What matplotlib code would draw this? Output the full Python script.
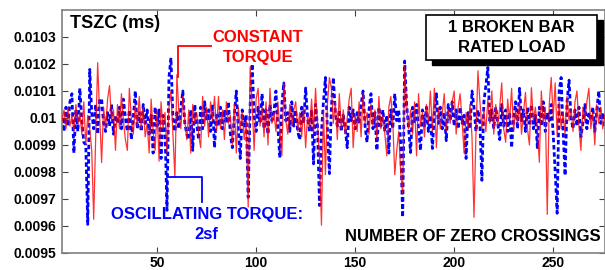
import numpy as np
import matplotlib
matplotlib.use("Agg")
import matplotlib.pyplot as plt
from matplotlib.patches import Rectangle

plt.rcParams['font.family'] = ['Liberation Sans', 'DejaVu Sans']

# zero-crossing index
n_start = 2
# constant torque (red), TSZC in units of 1e-6 ms
red_e6 = [
    9990, 10030, 9960, 10040, 9970, 10010, 9950, 10050, 9980, 10020,
    9940, 10060, 9900, 10010, 9960, 9880, 9625, 9930, 10205, 10010,
    9835, 10040, 9960, 10070, 10120, 9990, 10030, 9880, 10050, 9960,
    10090, 9990, 9920, 9880, 10110, 10000, 9940, 10050, 9970, 10080,
    9960, 10040, 9930, 9980, 9870, 10070, 9950, 9880, 10030, 9840,
    10060, 9960, 10020, 9870, 10040, 10100, 9940, 9780, 10160, 10020,
    9960, 10080, 9990, 9920, 10030, 9870, 10050, 9980, 10020, 9940,
    9890, 10080, 9970, 10040, 9930, 10060, 9990, 10080, 9950, 10080,
    9960, 10030, 9920, 10060, 9980, 10010, 9900, 10050, 9870, 10040,
    9960, 10020, 9920, 9990, 9670, 10190, 10050, 9880, 10070, 10110,
    9970, 10040, 9930, 10060, 9900, 10110, 9980, 10020, 9950, 10060,
    9960, 9860, 10130, 9990, 9940, 10050, 9970, 10030, 10060, 9950,
    10020, 9930, 10040, 9890, 10010, 9960, 10070, 9940, 10110, 9980,
    9850, 9603, 10030, 9790, 10050, 10150, 10110, 9980, 10060, 9920,
    10090, 9960, 10030, 9940, 10000, 10070, 10110, 9890, 10010, 9950,
    10060, 9930, 10090, 9980, 10020, 9940, 10050, 9970, 10030, 9920,
    10080, 9960, 10010, 9940, 9860, 10040, 10080, 9990, 9790, 9880,
    9950, 9800, 9720, 10190, 10050, 9960, 10030, 9940, 10060, 9860,
    10090, 9970, 10020, 9930, 10050, 9980, 10100, 9950, 10110, 9890,
    10040, 9960, 10020, 10090, 9950, 10030, 9980, 10060, 10100, 9940,
    10040, 10090, 9990, 9870, 10020, 9960, 10050, 9930, 9632, 9940,
    10175, 10060, 9960, 10030, 9950, 10070, 9980, 10100, 9940, 10050,
    9970, 10040, 10130, 9960, 9910, 10070, 9990, 10110, 9950, 10030,
    9980, 10060, 9940, 10020, 10095, 9960, 9900, 10112, 9990, 10040,
    9960, 9836, 10100, 9980, 10040, 9643, 10050, 10150, 10000, 10130,
    9930, 10060, 9960, 10020, 9940, 10080, 9990, 10030, 9950, 10060,
    10100, 9970, 9880, 10040, 9990, 10060, 10110, 9960, 10020, 9900,
    10050, 9980, 10040, 9960, 10010,
]
# oscillating torque 2sf (blue), TSZC in units of 1e-6 ms
blue_e6 = [
    10000, 9950, 10040, 9970, 10060, 10090, 9870, 10030, 9950, 10110,
    9990, 9910, 9900, 9606, 10180, 10020, 9960, 10050, 9940, 10070,
    10070, 9980, 9950, 10020, 9970, 10050, 9940, 10010, 9980, 10040,
    9960, 10070, 10000, 9950, 10030, 9920, 10000, 10100, 9960, 10020,
    9950, 10050, 9980, 10030, 9940, 10010, 9870, 10040, 9970, 10030,
    9850, 10010, 9960, 9658, 10150, 10223, 10000, 9950, 10020, 9960,
    10040, 10100, 9980, 9940, 9920, 10030, 9880, 10050, 9980, 9920,
    10040, 9960, 10060, 9990, 10030, 9950, 10050, 9890, 10020, 9970,
    10040, 9960, 10030, 9980, 10060, 9940, 9890, 10010, 10100, 9960,
    9850, 10030, 9970, 10010, 9706, 10050, 10200, 10010, 9950, 10040,
    9980, 10090, 9960, 10030, 9940, 10050, 9990, 10020, 10100, 9960,
    9853, 10050, 10130, 9990, 10020, 9950, 10060, 9970, 10030, 9950,
    9920, 10040, 9980, 10111, 10000, 9950, 10030, 9830, 10050, 9970,
    9676, 9950, 10060, 10150, 9960, 9794, 10040, 10150, 10020, 9970,
    10030, 9950, 10010, 9960, 9890, 10040, 9990, 10030, 9960, 10020,
    9980, 10050, 10100, 9970, 9910, 10030, 10090, 9960, 10020, 9880,
    10040, 9970, 10030, 9950, 10010, 9870, 10030, 9960, 10090, 9990,
    10030, 9900, 9632, 10211, 10050, 9960, 9872, 10040, 9980, 10050,
    9960, 9880, 10030, 9970, 10040, 9950, 10010, 9887, 10020, 10090,
    9980, 10040, 9960, 10020, 9916, 10050, 9990, 10060, 9970, 10030,
    9960, 10040, 9980, 10010, 9850, 10020, 9960, 10100, 10040, 9950,
    10030, 9980, 9769, 10060, 10120, 10187, 9990, 10030, 9960, 10040,
    9980, 9920, 10050, 9970, 10030, 9950, 10020, 9890, 10000, 10060,
    9960, 10110, 9990, 10030, 9950, 10040, 9980, 10050, 9960, 10010,
    9890, 10040, 9970, 10060, 9950, 10020, 9990, 10050, 9940, 9800,
    9647, 10100, 10150, 9950, 9787, 10060, 10140, 10000, 9960, 10030,
    9970, 10040, 9930, 9980, 10050, 9960, 10020, 9990, 10040, 9950,
    10030, 10100, 9980, 10020, 9970,
]
x_ticks = [50, 100, 150, 200, 250]
y_ticks = [0.0095, 0.0096, 0.0097, 0.0098, 0.0099, 0.01, 0.0101, 0.0102, 0.0103]
y_tick_labels = ['0.0095', '0.0096', '0.0097', '0.0098', '0.0099', '0.01',
                 '0.0101', '0.0102', '0.0103']

red = np.array(red_e6) * 1e-6
blue = np.array(blue_e6) * 1e-6
n = np.arange(n_start, n_start + len(red))

fig = plt.figure(figsize=(6.05, 2.70), dpi=100)
ax = fig.add_axes([0.1025, 0.063, 0.897, 0.900])

ax.plot(n, blue, color='#0000ff', lw=2.0, ls=(0, (1.6, 1.0)), zorder=2)
ax.plot(n, red, color='#ff0000', lw=0.9, alpha=0.8, zorder=3)

ax.set_xlim(2, 276)
ax.set_ylim(0.0095, 0.0104)
ax.set_xticks(x_ticks)
ax.set_xticklabels([str(t) for t in x_ticks])
ax.set_yticks(y_ticks)
ax.set_yticklabels(y_tick_labels)
ax.tick_params(direction='in', top=True, right=True, length=4, color='#404040',
               labelsize=10)
ax.tick_params(axis='x', pad=2)
ax.tick_params(axis='y', pad=4)
for lab in ax.get_xticklabels() + ax.get_yticklabels():
    lab.set_fontweight('bold')
for s in ax.spines.values():
    s.set_color('#808080')
    s.set_linewidth(1.2)

FS = 12

ax.text(0.015, 0.946, 'TSZC (ms)', transform=ax.transAxes, fontsize=13,
        fontweight='bold', va='center', ha='left', color='black')

ax.text(0.993, 0.066, 'NUMBER OF ZERO CROSSINGS', transform=ax.transAxes,
        fontsize=FS, fontweight='bold', va='center', ha='right', color='black')

# constant torque annotation
ax.text(101, 0.010261, 'CONSTANT\nTORQUE', fontsize=FS, fontweight='bold',
        color='#ff0000', ha='center', va='center', linespacing=1.35)
ax.plot([60.5, 60.5, 77], [0.01015, 0.010267, 0.010267], color='#ff0000', lw=1.3,
        zorder=4)

# oscillating torque annotation
ax.text(75, 0.0096056, 'OSCILLATING TORQUE:\n2sf', fontsize=FS,
        fontweight='bold', color='#0000ff', ha='center', va='center',
        linespacing=1.45)
ax.plot([55.5, 72.5, 72.5], [0.00978, 0.00978, 0.00969], color='#0000ff', lw=1.3,
        zorder=4)

# boxed label with shadow
bx0, by0, bw, bh = 0.671, 0.794, 0.315, 0.185
ax.add_patch(Rectangle((bx0 + 0.010, by0 - 0.022), bw, bh, transform=ax.transAxes,
                       facecolor='black', edgecolor='black', zorder=5))
ax.add_patch(Rectangle((bx0, by0), bw, bh, transform=ax.transAxes,
                       facecolor='white', edgecolor='black', lw=1.2, zorder=6))
ax.text(bx0 + bw / 2, by0 + bh / 2, '1 BROKEN BAR\nRATED LOAD',
        transform=ax.transAxes, fontsize=FS, fontweight='bold', ha='center',
        va='center', zorder=7, linespacing=1.45)

fig.savefig('out.png', dpi=100)
